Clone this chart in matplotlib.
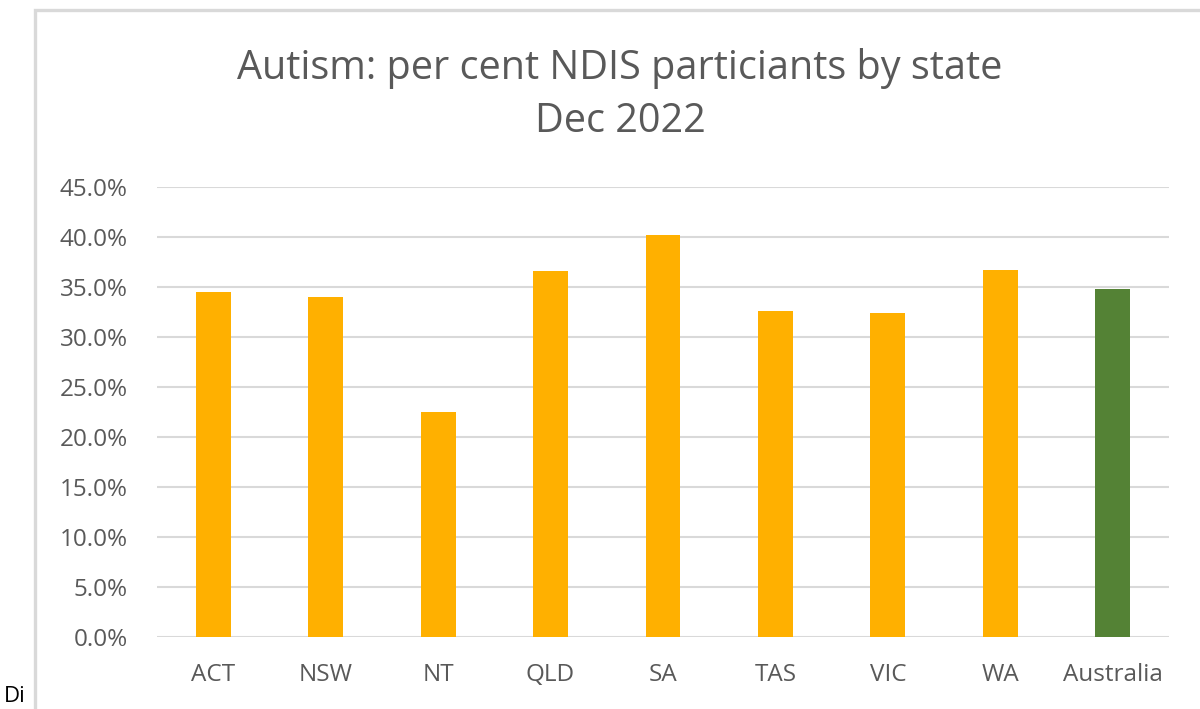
import matplotlib
matplotlib.use("Agg")
import matplotlib.pyplot as plt
from matplotlib.patches import Rectangle
from matplotlib.ticker import FuncFormatter, MultipleLocator

states = ["ACT", "NSW", "NT", "QLD", "SA", "TAS", "VIC", "WA", "Australia"]
values = [34.5, 34.0, 22.5, 36.6, 40.2, 32.6, 32.4, 36.7, 34.8]
colors = ["#FFB000"] * 8 + ["#548235"]
title = "Autism: per cent NDIS particiants by state\nDec 2022"

plt.rcParams['font.family'] = ['Open Sans', 'DejaVu Sans']

W, H = 1200, 709
fig = plt.figure(figsize=(W / 100, H / 100), dpi=100)
fig.patch.set_facecolor("white")

# chart border
fig.patches.append(Rectangle((35 / W, -0.1), 1.2, (H - 10) / H + 0.1,
                             transform=fig.transFigure, fill=False,
                             edgecolor="#D9D9D9", linewidth=2.4, zorder=0))
fig.text(4 / W, 2 / H, "Di", fontsize=16, color="black", va="bottom", ha="left")

ax = fig.add_axes([157 / W, 1 - 637 / H, (1169 - 157) / W, (637 - 187) / H])
x = range(len(states))
ax.bar(x, values, width=0.31, color=colors, zorder=3)
ax.set_xlim(-0.5, len(states) - 0.5)
ax.set_ylim(0, 45)
ax.yaxis.set_major_locator(MultipleLocator(5))
ax.yaxis.set_major_formatter(FuncFormatter(lambda v, p: f"{v:.1f}%"))
ax.set_xticks(list(x))
ax.set_xticklabels(states)
ax.grid(axis="y", color="#D9D9D9", linewidth=1.5, zorder=0)
for s in ax.spines.values():
    s.set_visible(False)
ax.tick_params(axis="both", length=0, labelsize=17.5, colors="#595959")
ax.tick_params(axis="y", pad=21)
ax.tick_params(axis="x", pad=19)

fig.text(620 / W, 1 - 95 / H, title, fontsize=28.5, color="#595959",
         ha="center", va="center", linespacing=1.42)

fig.savefig("out.png", dpi=100, facecolor="white")
